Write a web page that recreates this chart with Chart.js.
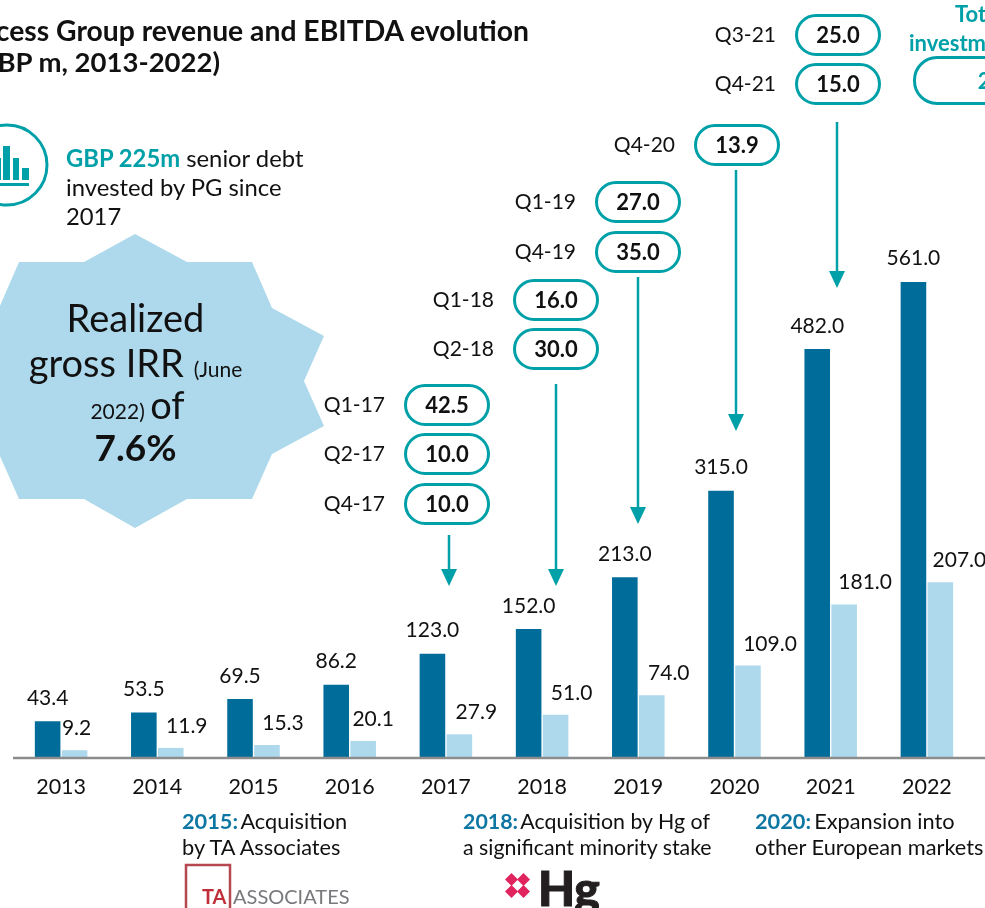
<!DOCTYPE html>
<html><head><meta charset="utf-8">
<script src="https://cdn.jsdelivr.net/npm/chart.js@4"></script>
<style>
html,body{margin:0;padding:0;background:#fff;overflow:hidden}
#wrap{position:relative;width:985px;height:908px;overflow:hidden;font-family:Lato,sans-serif;color:#111}
canvas{position:absolute;left:0;top:0}
svg{position:absolute;left:0;top:0}
.t{position:absolute;white-space:nowrap}
.pill{position:absolute;width:80px;height:36px;border:3px solid #00a0a8;border-radius:21px;text-align:center;font-weight:700;font-size:22px;line-height:36px;background:#fff;margin-left:-1px}
.ql{position:absolute;font-size:21px;text-align:right;width:70px;line-height:24px}
.foot{position:absolute;font-size:21.75px;line-height:26px;white-space:nowrap}
.foot b{color:#0d76a3}
.foot i{font-style:normal;margin-left:-2.5px}
</style></head><body>
<div id="wrap"><canvas id="c" width="985" height="908"></canvas></div>
<script>
const categories=['2013','2014','2015','2016','2017','2018','2019','2020','2021','2022'];
const revenue=[43.4,53.5,69.5,86.2,123.0,152.0,213.0,315.0,482.0,561.0];
const ebitda=[9.2,11.9,15.3,20.1,27.9,51.0,74.0,109.0,181.0,207.0];
const ebitdaLabelShift=[2,16,16,10,17,16,17,22,21,19];
const quarterLabels=['Q3-21','Q4-21','Q4-20','Q1-19','Q4-19','Q1-18','Q2-18','Q1-17','Q2-17','Q4-17'];
const quarterValues=[25.0,15.0,13.9,27.0,35.0,16.0,30.0,42.5,10.0,10.0];
const pillX=[796,796,695,596,596,514,514,405,405,405];
const pillY=[14,63,124,181,231,279,328,384,433,483];
const arrows=[[449,535,586],[556,384,586],[638,277,524],[736,170,431],[837,122,288]];
const DARK='#006c9a',LIGHT='#aed9ec',TEAL='#00a0a8';

const labelPlugin={id:'labels',afterDatasetsDraw(ch){
  const c=ch.ctx;c.save();c.font='21px Lato';c.fillStyle='#111';c.textAlign='center';c.textBaseline='alphabetic';
  ch.getDatasetMeta(0).data.forEach((b,i)=>c.fillText(revenue[i].toFixed(1),b.x,b.y-16.5));
  ch.getDatasetMeta(1).data.forEach((b,i)=>c.fillText(ebitda[i].toFixed(1),b.x+ebitdaLabelShift[i],b.y-15));
  const y=ch.scales.y.getPixelForValue(0);
  c.strokeStyle='#8c8c8c';c.lineWidth=2.5;c.beginPath();c.moveTo(13,y);c.lineTo(985,y);c.stroke();
  c.restore();
}};
new Chart(document.getElementById('c'),{type:'bar',
 data:{labels:categories,datasets:[
  {label:'Revenue',data:revenue,backgroundColor:DARK},
  {label:'EBITDA',data:ebitda,backgroundColor:LIGHT}]},
 options:{responsive:false,animation:false,
  layout:{padding:{left:13,right:10,top:0,bottom:0}},
  plugins:{legend:{display:false},tooltip:{enabled:false}},
  datasets:{bar:{categoryPercentage:0.56,barPercentage:0.95}},
  scales:{
   x:{grid:{display:false,drawTicks:false},border:{display:false},
      ticks:{color:'#111',font:{family:'Lato',size:21.5},padding:16,maxRotation:0},
      afterFit(s){s.height=150}},
   y:{display:false,min:0,max:893.3}
  }},
 plugins:[labelPlugin]});

const w=document.getElementById('wrap');
function el(cls,html,st){const d=document.createElement('div');d.className=cls;d.innerHTML=html;Object.assign(d.style,st||{});w.appendChild(d);return d}
const starPts='135,234 187,262 252,262 272,308 324,336 304,381 324,426 272,454 252,499 187,499 135,528 84,499 19,499 -1,454 -53,426 -33,381 -53,336 -1,308 19,262 84,262';
let svg=`<svg width="985" height="908"><polygon points="${starPts}" fill="${LIGHT}"/>`;
svg+=`<circle cx="7" cy="165" r="40" fill="none" stroke="${TEAL}" stroke-width="3"/>`;
[[-3,4,158],[3,7,146],[13,6,158],[22,7,168]].forEach(r=>svg+=`<rect x="${r[0]}" y="${r[2]}" width="${r[1]}" height="${180-r[2]}" fill="${TEAL}"/>`);
svg+=`<rect x="-5" y="183" width="34" height="3" fill="${TEAL}"/>`;
arrows.forEach(a=>{svg+=`<line x1="${a[0]}" y1="${a[1]}" x2="${a[0]}" y2="${a[2]-12}" stroke="${TEAL}" stroke-width="2.5"/><polygon points="${a[0]-8},${a[2]-17} ${a[0]+8},${a[2]-17} ${a[0]},${a[2]}" fill="${TEAL}"/>`});
svg+=`<rect x="186" y="865" width="44" height="60" fill="none" stroke="#b5474f" stroke-width="2.5"/>`;
svg+=`<g fill="#e0245e">`;
[[511.5,879.5],[523.5,879.5],[511.5,891.5],[523.5,891.5]].forEach(p=>svg+=`<polygon points="${p[0]},${p[1]-6.5} ${p[0]+6.5},${p[1]} ${p[0]},${p[1]+6.5} ${p[0]-6.5},${p[1]}"/>`);
svg+='</g></svg>';
w.insertAdjacentHTML('beforeend',svg);

el('t','Access Group revenue and EBITDA evolution',{right:'456px',top:'14px',fontSize:'28.3px',fontWeight:700,lineHeight:'32px'});
el('t','(GBP m, 2013-2022)',{right:'765px',top:'46px',fontSize:'27.5px',fontWeight:700,lineHeight:'32px'});
el('t',`<b style="color:${TEAL}">GBP 225m</b> senior debt<br>invested by PG since<br>2017`,{left:'66px',top:'144px',fontSize:'23.8px',lineHeight:'29px'});
el('t','Realized',{left:'0',width:'271px',textAlign:'center',top:'294px',fontSize:'38px',lineHeight:'46px'});
el('t','gross IRR <span style="font-size:21px">(June</span>',{left:'0',width:'271px',textAlign:'center',top:'339px',fontSize:'38px',lineHeight:'46px'});
el('t','<span style="font-size:21px">2022) </span>of',{left:'2px',width:'271px',textAlign:'center',top:'381px',fontSize:'38px',lineHeight:'46px'});
el('t','7.6%',{left:'0',width:'271px',textAlign:'center',top:'424px',fontSize:'37px',fontWeight:700,lineHeight:'46px'});
quarterLabels.forEach((q,i)=>{
  el('ql',q,{left:(pillX[i]-90)+'px',top:(pillY[i]+8)+'px'});
  el('pill',quarterValues[i].toFixed(1),{left:pillX[i]+'px',top:pillY[i]+'px'});
});
el('t','Total',{left:'955px',top:'0',fontSize:'22px',fontWeight:700,color:TEAL,lineHeight:'28px'});
el('t','investment',{left:'909px',top:'29px',fontSize:'22px',fontWeight:700,color:TEAL,lineHeight:'28px'});
el('pill','225.0',{left:'914px',top:'56px',width:'180px',height:'43px',lineHeight:'43px',borderRadius:'24px',color:TEAL});
el('foot','<b>2015:</b><i> Acquisition</i><br>by TA Associates',{left:'182px',top:'808px'});
el('foot','<b>2018:</b><i> Acquisition by Hg of</i><br>a significant minority stake',{left:'463px',top:'808px',fontSize:'21.35px'});
el('foot','<b>2020:</b><i> Expansion into</i><br>other European markets',{left:'755px',top:'808px'});
el('t','TA',{left:'202px',top:'883px',fontSize:'20px',fontWeight:700,color:'#c0303a',lineHeight:'26px'});
el('t','ASSOCIATES',{left:'233px',top:'883px',fontSize:'20px',color:'#77797c',lineHeight:'26px'});
el('t','Hg',{left:'538px',top:'862px',fontSize:'48px',fontWeight:900,color:'#231f20',lineHeight:'52px',webkitTextStroke:'1px #231f20'});
</script></body></html>
